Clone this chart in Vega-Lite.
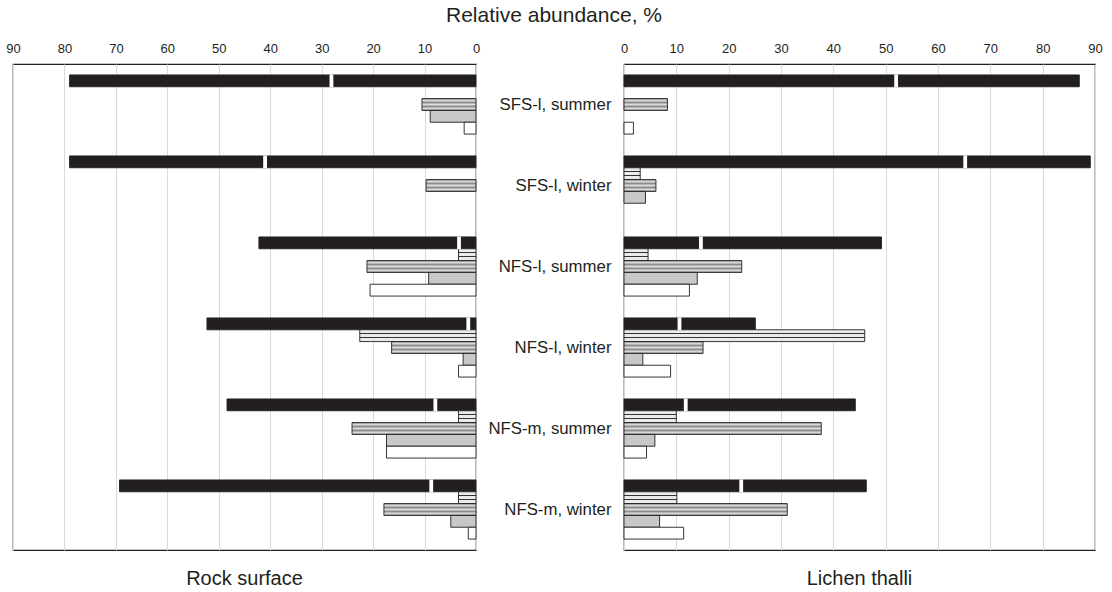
{
  "$schema": "https://vega.github.io/schema/vega-lite/v6.json",
  "padding": {"left": 5, "top": 5, "right": 5, "bottom": 2},
  "background": "white",
  "title": {"text": "Relative abundance, %", "fontSize": 21, "fontWeight": "normal", "font": "Liberation Sans", "color": "#231f20", "anchor": "middle", "offset": 15},
  "config": {
    "font": "Liberation Sans",
    "view": {"stroke": "#231f20", "strokeWidth": 1.2},
    "axis": {"labelFont": "Liberation Sans", "labelColor": "#231f20"},
    "title": {"font": "Liberation Sans", "color": "#231f20", "fontWeight": "normal"}
  },
  "data": {"values": [
    {"panel": "Rock surface", "site": "SFS-l, summer", "kind": "A", "part": "A1", "value": 28.1},
    {"panel": "Rock surface", "site": "SFS-l, summer", "kind": "A", "part": "A2", "value": 50.9},
    {"panel": "Rock surface", "site": "SFS-l, summer", "kind": "C", "part": "C", "value": 10.5},
    {"panel": "Rock surface", "site": "SFS-l, summer", "kind": "D", "part": "D", "value": 8.9},
    {"panel": "Rock surface", "site": "SFS-l, summer", "kind": "E", "part": "E", "value": 2.3},
    {"panel": "Rock surface", "site": "SFS-l, winter", "kind": "A", "part": "A1", "value": 41.0},
    {"panel": "Rock surface", "site": "SFS-l, winter", "kind": "A", "part": "A2", "value": 38.0},
    {"panel": "Rock surface", "site": "SFS-l, winter", "kind": "C", "part": "C", "value": 9.7},
    {"panel": "Rock surface", "site": "NFS-l, summer", "kind": "A", "part": "A1", "value": 3.3},
    {"panel": "Rock surface", "site": "NFS-l, summer", "kind": "A", "part": "A2", "value": 38.9},
    {"panel": "Rock surface", "site": "NFS-l, summer", "kind": "B", "part": "B", "value": 3.4},
    {"panel": "Rock surface", "site": "NFS-l, summer", "kind": "C", "part": "C", "value": 21.2},
    {"panel": "Rock surface", "site": "NFS-l, summer", "kind": "D", "part": "D", "value": 9.2},
    {"panel": "Rock surface", "site": "NFS-l, summer", "kind": "E", "part": "E", "value": 20.6},
    {"panel": "Rock surface", "site": "NFS-l, winter", "kind": "A", "part": "A1", "value": 1.5},
    {"panel": "Rock surface", "site": "NFS-l, winter", "kind": "A", "part": "A2", "value": 50.8},
    {"panel": "Rock surface", "site": "NFS-l, winter", "kind": "B", "part": "B", "value": 22.6},
    {"panel": "Rock surface", "site": "NFS-l, winter", "kind": "C", "part": "C", "value": 16.4},
    {"panel": "Rock surface", "site": "NFS-l, winter", "kind": "D", "part": "D", "value": 2.5},
    {"panel": "Rock surface", "site": "NFS-l, winter", "kind": "E", "part": "E", "value": 3.4},
    {"panel": "Rock surface", "site": "NFS-m, summer", "kind": "A", "part": "A1", "value": 7.9},
    {"panel": "Rock surface", "site": "NFS-m, summer", "kind": "A", "part": "A2", "value": 40.5},
    {"panel": "Rock surface", "site": "NFS-m, summer", "kind": "B", "part": "B", "value": 3.4},
    {"panel": "Rock surface", "site": "NFS-m, summer", "kind": "C", "part": "C", "value": 24.1},
    {"panel": "Rock surface", "site": "NFS-m, summer", "kind": "D", "part": "D", "value": 17.4},
    {"panel": "Rock surface", "site": "NFS-m, summer", "kind": "E", "part": "E", "value": 17.4},
    {"panel": "Rock surface", "site": "NFS-m, winter", "kind": "A", "part": "A1", "value": 8.7},
    {"panel": "Rock surface", "site": "NFS-m, winter", "kind": "A", "part": "A2", "value": 60.6},
    {"panel": "Rock surface", "site": "NFS-m, winter", "kind": "B", "part": "B", "value": 3.4},
    {"panel": "Rock surface", "site": "NFS-m, winter", "kind": "C", "part": "C", "value": 17.9},
    {"panel": "Rock surface", "site": "NFS-m, winter", "kind": "D", "part": "D", "value": 4.9},
    {"panel": "Rock surface", "site": "NFS-m, winter", "kind": "E", "part": "E", "value": 1.5},
    {"panel": "Lichen thalli", "site": "SFS-l, summer", "kind": "A", "part": "A1", "value": 52.0},
    {"panel": "Lichen thalli", "site": "SFS-l, summer", "kind": "A", "part": "A2", "value": 35.0},
    {"panel": "Lichen thalli", "site": "SFS-l, summer", "kind": "C", "part": "C", "value": 8.3},
    {"panel": "Lichen thalli", "site": "SFS-l, summer", "kind": "E", "part": "E", "value": 1.8},
    {"panel": "Lichen thalli", "site": "SFS-l, winter", "kind": "A", "part": "A1", "value": 65.2},
    {"panel": "Lichen thalli", "site": "SFS-l, winter", "kind": "A", "part": "A2", "value": 23.9},
    {"panel": "Lichen thalli", "site": "SFS-l, winter", "kind": "B", "part": "B", "value": 3.1},
    {"panel": "Lichen thalli", "site": "SFS-l, winter", "kind": "C", "part": "C", "value": 6.1},
    {"panel": "Lichen thalli", "site": "SFS-l, winter", "kind": "D", "part": "D", "value": 4.1},
    {"panel": "Lichen thalli", "site": "NFS-l, summer", "kind": "A", "part": "A1", "value": 14.7},
    {"panel": "Lichen thalli", "site": "NFS-l, summer", "kind": "A", "part": "A2", "value": 34.5},
    {"panel": "Lichen thalli", "site": "NFS-l, summer", "kind": "B", "part": "B", "value": 4.6},
    {"panel": "Lichen thalli", "site": "NFS-l, summer", "kind": "C", "part": "C", "value": 22.5},
    {"panel": "Lichen thalli", "site": "NFS-l, summer", "kind": "D", "part": "D", "value": 14.0},
    {"panel": "Lichen thalli", "site": "NFS-l, summer", "kind": "E", "part": "E", "value": 12.5},
    {"panel": "Lichen thalli", "site": "NFS-l, winter", "kind": "A", "part": "A1", "value": 10.6},
    {"panel": "Lichen thalli", "site": "NFS-l, winter", "kind": "A", "part": "A2", "value": 14.5},
    {"panel": "Lichen thalli", "site": "NFS-l, winter", "kind": "B", "part": "B", "value": 46.0},
    {"panel": "Lichen thalli", "site": "NFS-l, winter", "kind": "C", "part": "C", "value": 15.1},
    {"panel": "Lichen thalli", "site": "NFS-l, winter", "kind": "D", "part": "D", "value": 3.6},
    {"panel": "Lichen thalli", "site": "NFS-l, winter", "kind": "E", "part": "E", "value": 8.9},
    {"panel": "Lichen thalli", "site": "NFS-m, summer", "kind": "A", "part": "A1", "value": 11.8},
    {"panel": "Lichen thalli", "site": "NFS-m, summer", "kind": "A", "part": "A2", "value": 32.4},
    {"panel": "Lichen thalli", "site": "NFS-m, summer", "kind": "B", "part": "B", "value": 10.0},
    {"panel": "Lichen thalli", "site": "NFS-m, summer", "kind": "C", "part": "C", "value": 37.7},
    {"panel": "Lichen thalli", "site": "NFS-m, summer", "kind": "D", "part": "D", "value": 5.9},
    {"panel": "Lichen thalli", "site": "NFS-m, summer", "kind": "E", "part": "E", "value": 4.3},
    {"panel": "Lichen thalli", "site": "NFS-m, winter", "kind": "A", "part": "A1", "value": 22.4},
    {"panel": "Lichen thalli", "site": "NFS-m, winter", "kind": "A", "part": "A2", "value": 23.9},
    {"panel": "Lichen thalli", "site": "NFS-m, winter", "kind": "B", "part": "B", "value": 10.1},
    {"panel": "Lichen thalli", "site": "NFS-m, winter", "kind": "C", "part": "C", "value": 31.2},
    {"panel": "Lichen thalli", "site": "NFS-m, winter", "kind": "D", "part": "D", "value": 6.8},
    {"panel": "Lichen thalli", "site": "NFS-m, winter", "kind": "E", "part": "E", "value": 11.4}
  ]},
  "bounds": "flush",
  "spacing": 148,
  "hconcat": [
    {
      "width": 463,
      "height": 486,
      "title": {"text": "Rock surface", "orient": "bottom", "fontSize": 20, "fontWeight": "normal", "offset": 19, "anchor": "middle"},
      "transform": [{"filter": "datum.panel === 'Rock surface'"}],
      "encoding": {
        "y": {"field": "site", "type": "nominal", "sort": ["SFS-l, summer", "SFS-l, winter", "NFS-l, summer", "NFS-l, winter", "NFS-m, summer", "NFS-m, winter"], "scale": {"paddingInner": 0.27, "paddingOuter": 0.135}, "axis": null},
        "yOffset": {"field": "kind", "type": "nominal", "sort": ["A", "B", "C", "D", "E"], "scale": {"paddingInner": 0, "paddingOuter": 0}}
      },
      "layer": [
        {
          "mark": {"type": "bar", "stroke": "#231f20", "strokeWidth": 0.9},
          "encoding": {
            "x": {"field": "value", "type": "quantitative", "stack": "zero", "scale": {"domain": [0, 90], "reverse": true, "nice": false}, "axis": {"orient": "top", "values": [0, 10, 20, 30, 40, 50, 60, 70, 80, 90], "grid": true, "gridColor": "#d9d9d9", "ticks": false, "domain": false, "labelFontSize": 13, "labelPadding": 9, "labelFlush": false, "title": null}},
            "detail": {"field": "part"},
            "order": {"field": "part", "sort": "ascending"},
            "fill": {
              "condition": [
                {"test": "datum.part === 'B'", "value": {"gradient": "linear", "x1": 0, "y1": 0, "x2": 0, "y2": 1, "stops": [
                  {"offset": 0, "color": "#ebebeb"}, {"offset": 0.27, "color": "#ebebeb"}, {"offset": 0.27, "color": "#333333"}, {"offset": 0.4, "color": "#333333"}, {"offset": 0.4, "color": "#ebebeb"}, {"offset": 0.6, "color": "#ebebeb"}, {"offset": 0.6, "color": "#333333"}, {"offset": 0.73, "color": "#333333"}, {"offset": 0.73, "color": "#ebebeb"}, {"offset": 1, "color": "#ebebeb"}]}},
                {"test": "datum.part === 'C'", "value": {"gradient": "linear", "x1": 0, "y1": 0, "x2": 0, "y2": 1, "stops": [
                  {"offset": 0, "color": "#8c8c8c"}, {"offset": 0.17, "color": "#dcdcdc"}, {"offset": 0.33, "color": "#8c8c8c"}, {"offset": 0.5, "color": "#dcdcdc"}, {"offset": 0.67, "color": "#8c8c8c"}, {"offset": 0.83, "color": "#dcdcdc"}, {"offset": 1, "color": "#8c8c8c"}]}},
                {"test": "datum.part === 'D'", "value": "#c8c8c8"},
                {"test": "datum.part === 'E'", "value": "#ffffff"}
              ],
              "value": "#231f20"
            }
          }
        },
        {
          "transform": [{"filter": "datum.part === 'A1'"}],
          "mark": {"type": "tick", "orient": "vertical", "thickness": 3.8, "size": 12.8, "color": "white", "opacity": 1},
          "encoding": {"x": {"field": "value", "type": "quantitative", "stack": null}}
        }
      ]
    },
    {
      "width": 471,
      "height": 486,
      "title": {"text": "Lichen thalli", "orient": "bottom", "fontSize": 20, "fontWeight": "normal", "offset": 19, "anchor": "middle"},
      "transform": [{"filter": "datum.panel === 'Lichen thalli'"}],
      "encoding": {
        "y": {"field": "site", "type": "nominal", "sort": ["SFS-l, summer", "SFS-l, winter", "NFS-l, summer", "NFS-l, winter", "NFS-m, summer", "NFS-m, winter"], "scale": {"paddingInner": 0.27, "paddingOuter": 0.135}, "axis": {"orient": "left", "ticks": false, "domain": false, "title": null, "labelFontSize": 16.8, "labelPadding": 13, "labelAlign": "right"}},
        "yOffset": {"field": "kind", "type": "nominal", "sort": ["A", "B", "C", "D", "E"], "scale": {"paddingInner": 0, "paddingOuter": 0}}
      },
      "layer": [
        {
          "mark": {"type": "bar", "stroke": "#231f20", "strokeWidth": 0.9},
          "encoding": {
            "x": {"field": "value", "type": "quantitative", "stack": "zero", "scale": {"domain": [0, 90], "nice": false}, "axis": {"orient": "top", "values": [0, 10, 20, 30, 40, 50, 60, 70, 80, 90], "grid": true, "gridColor": "#d9d9d9", "ticks": false, "domain": false, "labelFontSize": 13, "labelPadding": 9, "labelFlush": false, "title": null}},
            "detail": {"field": "part"},
            "order": {"field": "part", "sort": "ascending"},
            "fill": {
              "condition": [
                {"test": "datum.part === 'B'", "value": {"gradient": "linear", "x1": 0, "y1": 0, "x2": 0, "y2": 1, "stops": [
                  {"offset": 0, "color": "#ebebeb"}, {"offset": 0.27, "color": "#ebebeb"}, {"offset": 0.27, "color": "#333333"}, {"offset": 0.4, "color": "#333333"}, {"offset": 0.4, "color": "#ebebeb"}, {"offset": 0.6, "color": "#ebebeb"}, {"offset": 0.6, "color": "#333333"}, {"offset": 0.73, "color": "#333333"}, {"offset": 0.73, "color": "#ebebeb"}, {"offset": 1, "color": "#ebebeb"}]}},
                {"test": "datum.part === 'C'", "value": {"gradient": "linear", "x1": 0, "y1": 0, "x2": 0, "y2": 1, "stops": [
                  {"offset": 0, "color": "#8c8c8c"}, {"offset": 0.17, "color": "#dcdcdc"}, {"offset": 0.33, "color": "#8c8c8c"}, {"offset": 0.5, "color": "#dcdcdc"}, {"offset": 0.67, "color": "#8c8c8c"}, {"offset": 0.83, "color": "#dcdcdc"}, {"offset": 1, "color": "#8c8c8c"}]}},
                {"test": "datum.part === 'D'", "value": "#c8c8c8"},
                {"test": "datum.part === 'E'", "value": "#ffffff"}
              ],
              "value": "#231f20"
            }
          }
        },
        {
          "transform": [{"filter": "datum.part === 'A1'"}],
          "mark": {"type": "tick", "orient": "vertical", "thickness": 3.8, "size": 12.8, "color": "white", "opacity": 1},
          "encoding": {"x": {"field": "value", "type": "quantitative", "stack": null}}
        }
      ]
    }
  ]
}
